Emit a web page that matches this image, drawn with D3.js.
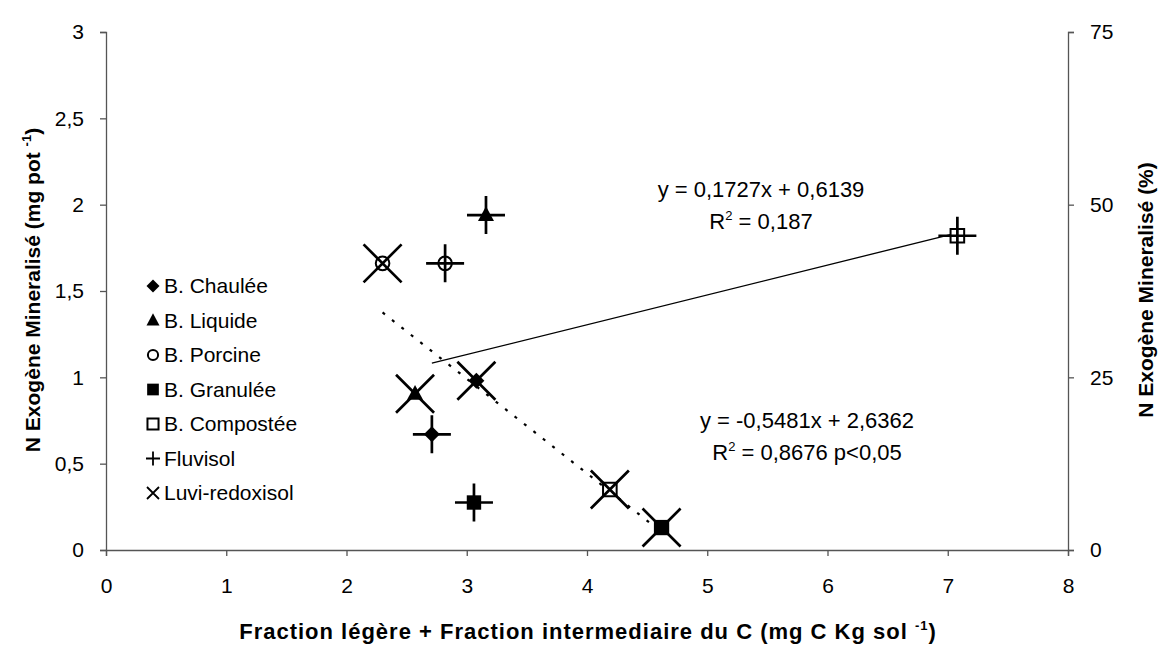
<!DOCTYPE html>
<html>
<head>
<meta charset="utf-8">
<script src="https://cdn.jsdelivr.net/npm/d3@7"></script>
<style>
  body { margin: 0; background: #fff; }
  svg { font-family: "Liberation Sans", Arial, sans-serif; }
</style>
</head>
<body>
<div id="chart"></div>
<script>
// data
var amendments = ["B. Chaulée", "B. Liquide", "B. Porcine", "B. Granulée", "B. Compostée"];
var soils = ["Fluvisol", "Luvi-redoxisol"];
var fluvisolX = [2.71, 3.16, 2.82, 3.06, 7.08];
var fluvisolY = [0.67, 1.94, 1.66, 0.275, 1.82];
var luviX = [3.08, 2.57, 2.30, 4.62, 4.19];
var luviY = [0.98, 0.905, 1.66, 0.13, 0.35];
var trendSlope = [0.1727, -0.5481];
var trendIntercept = [0.6139, 2.6362];
var trendLabels = [["y = 0,1727x + 0,6139", "0,187"], ["y = -0,5481x + 2,6362", "0,8676 p<0,05"]];
var xTicks = [0, 1, 2, 3, 4, 5, 6, 7, 8];
var yTicks = [0, 0.5, 1, 1.5, 2, 2.5, 3];
var y2Ticks = [0, 25, 50, 75];

var width = 1167, height = 646;
var svg = d3.select("#chart").append("svg")
  .attr("width", width)
  .attr("height", height);

var plotLeft = 106, plotRight = 1068, plotTop = 32, plotBottom = 550;

var x = d3.scaleLinear().domain([0, 8]).range([plotLeft, plotRight]);
var y = d3.scaleLinear().domain([0, 3]).range([plotBottom, plotTop]);
var y2 = d3.scaleLinear().domain([0, 75]).range([plotBottom, plotTop]);

var fmt = function(d) { return String(d).replace(".", ","); };

// axes
var gx = svg.append("g").attr("transform", "translate(0," + plotBottom + ")")
  .call(d3.axisBottom(x).tickValues(xTicks).tickSize(6).tickPadding(22).tickFormat(fmt));
var gy = svg.append("g").attr("transform", "translate(" + plotLeft + ",0)")
  .call(d3.axisLeft(y).tickValues(yTicks).tickSize(6).tickPadding(16).tickFormat(fmt));
var gy2 = svg.append("g").attr("transform", "translate(" + plotRight + ",0)")
  .call(d3.axisRight(y2).tickValues(y2Ticks).tickSize(6).tickPadding(16));

[gx, gy, gy2].forEach(function(g) {
  g.select(".domain").attr("stroke", "#555").attr("stroke-width", 1.3);
  g.selectAll(".tick line").attr("stroke", "#555").attr("stroke-width", 1.3);
  g.selectAll(".tick text").attr("font-size", 21).attr("fill", "#000")
    .attr("font-family", "'Liberation Sans', Arial, sans-serif");
});

// axis titles
var bt = svg.append("text").attr("x", 588).attr("y", 639).attr("text-anchor", "middle")
  .attr("font-size", 22).attr("font-weight", "bold").attr("letter-spacing", 1);
bt.append("tspan").text("Fraction légère + Fraction intermediaire du C (mg C Kg sol ");
bt.append("tspan").attr("font-size", 13).attr("dy", -9).text("-1");
bt.append("tspan").attr("dy", 9).text(")");

var lt = svg.append("text").attr("transform", "translate(40,290) rotate(-90)")
  .attr("text-anchor", "middle").attr("font-size", 21).attr("font-weight", "bold");
lt.append("tspan").text("N Exogène Mineralisé (mg pot ");
lt.append("tspan").attr("font-size", 13).attr("dy", -9).text("-1");
lt.append("tspan").attr("dy", 9).text(")");

svg.append("text").attr("transform", "translate(1153,290) rotate(-90)")
  .attr("text-anchor", "middle").attr("font-size", 21).attr("font-weight", "bold")
  .text("N Exogène Mineralisé (%)");

// trend lines over each soil's x range
var soilX = [fluvisolX, luviX];
var soilY = [fluvisolY, luviY];
soils.forEach(function(s, i) {
  var ext = d3.extent(soilX[i]);
  svg.append("line")
    .attr("x1", x(ext[0])).attr("y1", y(trendSlope[i] * ext[0] + trendIntercept[i]))
    .attr("x2", x(ext[1])).attr("y2", y(trendSlope[i] * ext[1] + trendIntercept[i]))
    .attr("stroke", "#000")
    .attr("stroke-width", i === 0 ? 1.3 : 2.2)
    .attr("stroke-dasharray", i === 0 ? null : "3,9");
});

// marker shapes
function shapePath(k, cx, cy, s) {
  if (k === 0) return "M" + cx + "," + (cy - s) + "L" + (cx + s) + "," + cy + "L" + cx + "," + (cy + s) + "L" + (cx - s) + "," + cy + "Z";
  if (k === 1) return "M" + cx + "," + (cy - s * 1.1) + "L" + (cx + s) + "," + (cy + s * 0.75) + "L" + (cx - s) + "," + (cy + s * 0.75) + "Z";
  return "M" + (cx - s) + "," + (cy - s) + "h" + (s * 2) + "v" + (s * 2) + "h" + (-s * 2) + "Z";
}
function drawInner(g, k, cx, cy, s) {
  if (k === 2) {
    g.append("circle").attr("cx", cx).attr("cy", cy).attr("r", s * 0.85)
      .attr("fill", "#fff").attr("stroke", "#000").attr("stroke-width", 2);
  } else if (k === 4) {
    g.append("path").attr("d", shapePath(3, cx, cy, s * 0.85))
      .attr("fill", "#fff").attr("stroke", "#000").attr("stroke-width", 2);
  } else {
    g.append("path").attr("d", shapePath(k, cx, cy, k === 3 ? s * 0.9 : s)).attr("fill", "#000");
  }
}
function drawSoil(g, j, cx, cy, a) {
  var p = j === 0
    ? "M" + (cx - a) + "," + cy + "H" + (cx + a) + "M" + cx + "," + (cy - a) + "V" + (cy + a)
    : "M" + (cx - a) + "," + (cy - a) + "L" + (cx + a) + "," + (cy + a) +
      "M" + (cx + a) + "," + (cy - a) + "L" + (cx - a) + "," + (cy + a);
  g.append("path").attr("d", p).attr("stroke", "#000")
    .attr("stroke-width", a > 10 ? 2.7 : 1.8).attr("fill", "none");
}

// points
var pts = svg.append("g");
soils.forEach(function(s, j) {
  amendments.forEach(function(a, k) {
    var cx = x(soilX[j][k]), cy = y(soilY[j][k]);
    drawInner(pts, k, cx, cy, (k === 3 && j === 1) ? 8.5 : 8);
    drawSoil(pts, j, cx, cy, 19);
  });
});

// trend equations
var eqPos = [[761, 197], [807, 428]];
trendLabels.forEach(function(t, i) {
  svg.append("text").attr("x", eqPos[i][0]).attr("y", eqPos[i][1]).attr("text-anchor", "middle")
    .attr("font-size", 22).text(t[0]);
  var r = svg.append("text").attr("x", eqPos[i][0]).attr("y", eqPos[i][1] + 32).attr("text-anchor", "middle")
    .attr("font-size", 22);
  r.append("tspan").text("R");
  r.append("tspan").attr("font-size", 13).attr("dy", -9).text("2");
  r.append("tspan").attr("dy", 9).text(" = " + t[1]);
});

// legend
var legendItems = amendments.concat(soils);
var lg = svg.append("g");
legendItems.forEach(function(name, i) {
  var ly = 286 + i * 34.5;
  if (i < 5) drawInner(lg, i, 153, ly, i === 2 ? 6 : 6.5);
  else drawSoil(lg, i - 5, 153, ly, i === 5 ? 7 : 6);
  lg.append("text").attr("x", 164).attr("y", ly + 7).attr("font-size", 21).text(name);
});
</script>
</body>
</html>
